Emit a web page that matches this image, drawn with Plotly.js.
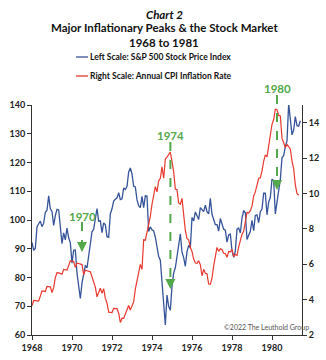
<!DOCTYPE html>
<html><head><meta charset="utf-8">
<script src="https://cdn.plot.ly/plotly-3.0.1.min.js"></script>
<style>html,body{margin:0;padding:0;background:#fff}#c{width:326px;height:360px}</style>
</head><body><div id="c"></div>
<script>
// Monthly series, first point = Jan 1968
const startYear = 1968;
const sp500 = [
 92.2, 89.4, 90.2, 97.6, 98.7, 99.6, 97.7, 98.9, 102.7, 103.4, 108.4, 103.9,
 103.0, 98.1, 101.5, 103.7, 103.5, 97.7, 91.8, 95.5, 93.1, 97.2, 93.8, 92.1,
 85.0, 89.5, 89.6, 81.5, 76.6, 72.7, 78.1, 81.5, 84.2, 83.3, 87.2, 92.2,
 95.9, 96.8, 100.3, 104.0, 99.6, 99.7, 95.6, 99.0, 98.3, 94.2, 94.0, 102.1,
 103.9, 106.6, 107.2, 107.7, 109.5, 107.1, 107.4, 111.1, 110.6, 111.6, 116.7, 118.1,
 116.0, 111.7, 111.5, 107.0, 105.0, 104.3, 108.2, 104.3, 108.4, 108.3, 96.0, 97.6,
 96.6, 96.2, 94.0, 90.3, 87.3, 86.0, 79.3, 72.2, 63.5, 73.9, 70.0, 68.6,
 77.0, 81.6, 83.4, 87.3, 91.2, 95.2, 88.8, 86.9, 83.9, 89.0, 91.2, 90.2,
 100.9, 99.7, 102.8, 101.6, 100.2, 104.3, 103.4, 102.9, 105.2, 102.9, 102.1, 107.5,
 102.0, 99.8, 98.4, 98.4, 96.1, 100.5, 98.9, 96.8, 96.5, 92.3, 94.8, 95.1,
 89.3, 87.0, 89.2, 96.8, 97.2, 95.5, 100.7, 103.3, 102.5, 93.2, 94.7, 96.1,
 99.9, 96.3, 101.6, 101.8, 99.1, 102.9, 103.8, 109.3, 109.3, 101.8, 106.2, 107.9,
 114.2, 113.7, 102.1, 106.3, 111.2, 114.2, 121.7, 122.4, 125.5, 127.5, 140.5, 135.8,
 129.6, 131.3, 136.0, 132.8, 132.6, 134.5
];
const cpiYoY = [
 3.65, 3.95, 3.94, 3.93, 3.92, 4.20, 4.49, 4.48, 4.46, 4.75, 4.73, 4.72,
 4.40, 4.68, 5.25, 5.52, 5.51, 5.48, 5.44, 5.71, 5.70, 5.67, 5.93, 6.20,
 6.18, 6.15, 5.82, 6.06, 6.04, 6.01, 5.98, 5.41, 5.66, 5.63, 5.60, 5.57,
 5.29, 5.00, 4.71, 4.16, 4.40, 4.64, 4.36, 4.62, 4.08, 3.81, 3.29, 3.27,
 3.27, 3.51, 3.50, 3.49, 3.23, 2.71, 2.95, 2.94, 3.19, 3.42, 3.67, 3.41,
 3.65, 3.87, 4.59, 5.06, 5.53, 5.99, 5.71, 7.38, 7.36, 7.80, 8.25, 8.71,
 9.39, 10.02, 10.39, 10.09, 10.71, 10.86, 11.51, 10.86, 11.95, 12.06, 12.20, 12.34,
 11.80, 11.23, 10.25, 10.21, 9.47, 9.39, 9.72, 8.60, 7.91, 7.44, 7.38, 6.94,
 6.72, 6.29, 6.07, 6.05, 6.20, 5.97, 5.35, 5.71, 5.49, 5.46, 4.88, 4.86,
 5.21, 5.91, 6.44, 6.95, 6.73, 6.87, 6.83, 6.62, 6.60, 6.39, 6.72, 6.70,
 6.84, 6.43, 6.55, 6.50, 6.97, 7.41, 7.70, 7.86, 8.31, 8.93, 8.89, 9.03,
 9.28, 9.86, 10.09, 10.49, 10.85, 10.89, 11.26, 11.82, 12.18, 12.07, 12.61, 13.29,
 13.91, 14.18, 14.76, 14.73, 14.41, 14.38, 13.13, 12.87, 12.60, 12.77, 12.65, 12.52,
 11.83, 11.41, 10.49, 10.00, 9.90
];
const xTickVals = [1968, 1970, 1972, 1974, 1976, 1978, 1980];
const leftTicks = [60, 70, 80, 90, 100, 110, 120, 130, 140];
const rightTicks = [2, 4, 6, 8, 10, 12, 14];
const peakYears = ["1970", "1974", "1980"];
const peakX = [1970.5, 1974.92, 1980.25];

const monthsX = n => Array.from({length: n}, (_, i) => startYear + i / 12);

const BLUE = '#36549a', RED = '#e8392f', GREEN = '#52a84a';
const FONT = 'Lato, "Open Sans", sans-serif';

const traces = [
 {x: monthsX(cpiYoY.length), y: cpiYoY, yaxis: 'y2', type: 'scatter', mode: 'lines',
  line: {color: RED, width: 1.2}, hoverinfo: 'skip'},
 {x: monthsX(sp500.length), y: sp500, type: 'scatter', mode: 'lines',
  line: {color: BLUE, width: 1.3}, hoverinfo: 'skip'}
];

// pixel helpers (plot area: top 105, bottom 335, left 32, right 302)
const T = 105, B = 335, L = 32, R = 302;
const py = p => (B - p) / (B - T);
const px = p => (p - L) / (R - L);

const arrows = [
 {x: peakX[0], y0: 222, y1: 252, ty: 216},
 {x: peakX[1], y0: 142, y1: 289, ty: 135},
 {x: peakX[2], y0: 95, y1: 190, ty: 88}
];

const shapes = [];
const annotations = [];
arrows.forEach((a, i) => {
  shapes.push({type: 'line', xref: 'x', yref: 'paper', x0: a.x, x1: a.x, y0: py(a.y0), y1: py(a.y1 - 5),
    line: {color: GREEN, width: 2, dash: 'dash'}});
  annotations.push({xref: 'x', yref: 'paper', x: a.x, y: py(a.y1), text: '', showarrow: true,
    arrowhead: 2, arrowsize: 1, arrowwidth: 2, arrowcolor: GREEN, ax: 0, ay: -8});
  annotations.push({xref: 'x', yref: 'paper', x: a.x, y: py(a.ty), text: peakYears[i], showarrow: false,
    xanchor: 'center', yanchor: 'middle', font: {family: FONT, size: 11.5, color: GREEN, weight: 'bold'}});
});

// titles
const titleLines = [
 {t: '<i>Chart 2</i>', y: 14},
 {t: 'Major Inflationary Peaks & the Stock Market', y: 28},
 {t: '1968 to 1981', y: 42}
];
titleLines.forEach(l => annotations.push({xref: 'paper', yref: 'paper', x: px(164), y: py(l.y), text: l.t,
  showarrow: false, xanchor: 'center', yanchor: 'middle',
  font: {family: FONT, size: 11.5, color: '#111', weight: 'bold'}}));

// legend
const legendItems = [
 {t: 'Left Scale: S&P 500 Stock Price Index', c: BLUE, y: 57},
 {t: 'Right Scale: Annual CPI Inflation Rate', c: RED, y: 76}
];
legendItems.forEach(l => {
  shapes.push({type: 'line', xref: 'paper', yref: 'paper', x0: px(76), x1: px(88), y0: py(l.y), y1: py(l.y),
    line: {color: l.c, width: 1.3}});
  annotations.push({xref: 'paper', yref: 'paper', x: px(88), y: py(l.y), text: l.t, showarrow: false,
    xanchor: 'left', yanchor: 'middle', font: {family: FONT, size: 8.5, color: '#111', weight: 'bold'}});
});

annotations.push({xref: 'paper', yref: 'paper', x: px(222), y: py(327), text: '©2022 The Leuthold Group',
  showarrow: false, xanchor: 'left', yanchor: 'middle', font: {family: FONT, size: 7, color: '#555'}});

const tickFont = {family: FONT, size: 9, color: '#222', weight: 'bold'};
const layout = {
  width: 326, height: 360,
  margin: {l: L, r: 326 - R, t: T, b: 360 - B, pad: 0},
  paper_bgcolor: '#fff', plot_bgcolor: '#fff',
  showlegend: false,
  font: {family: FONT},
  xaxis: {range: [1968, 1981.5], tickvals: xTickVals, ticktext: xTickVals.map(String),
    showline: true, linecolor: '#333', linewidth: 1, ticks: 'outside', ticklen: 4, tickcolor: '#333',
    showgrid: false, zeroline: false, tickfont: tickFont},
  yaxis: {range: [60, 140], tickvals: leftTicks, showline: true, linecolor: '#333', linewidth: 1,
    ticks: 'outside', ticklen: 4, tickcolor: '#333', showgrid: false, zeroline: false, tickfont: tickFont},
  yaxis2: {range: [2, 15], tickvals: rightTicks, overlaying: 'y', side: 'right', showline: true,
    linecolor: '#333', linewidth: 1, ticks: 'outside', ticklen: 4, tickcolor: '#333', showgrid: false,
    zeroline: false, tickfont: tickFont},
  shapes: shapes,
  annotations: annotations
};
Plotly.newPlot('c', traces, layout, {staticPlot: true, displayModeBar: false});
</script>
</body></html>
